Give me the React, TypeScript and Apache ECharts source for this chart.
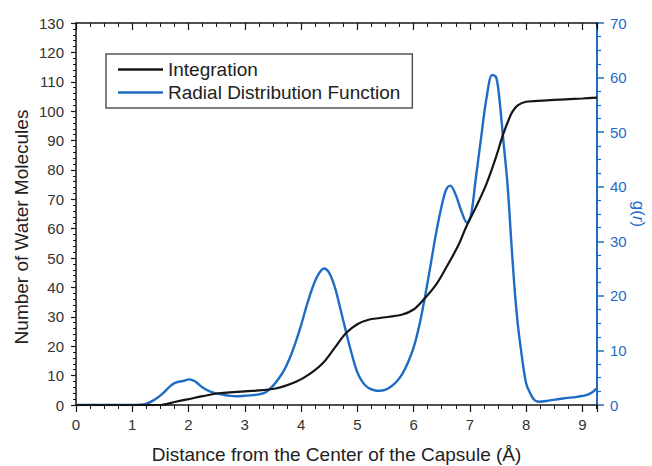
import React, { useEffect, useRef } from "react";
import * as echarts from "echarts";

// Integration (left axis: number of water molecules)
const intX = [0, 1.0, 1.5, 1.77, 2.0, 2.25, 2.54, 2.8, 3.14, 3.55, 3.91, 4.15, 4.38, 4.6, 4.8, 5.0, 5.2, 5.4, 5.8, 6.0, 6.16, 6.4, 6.58, 6.8, 6.93, 7.1, 7.29, 7.45, 7.59, 7.7, 7.76, 7.85, 8.0, 8.3, 8.7, 9.0, 9.26];
const intY = [0, 0, 0, 1.1, 2.0, 3.0, 4.0, 4.4, 4.8, 5.6, 7.9, 10.5, 14.1, 19.5, 24.5, 27.5, 29.0, 29.6, 30.8, 32.5, 35.5, 41.0, 46.8, 54.5, 60.4, 67.0, 75.0, 83.5, 92.0, 97.5, 99.9, 102.0, 103.2, 103.6, 104.0, 104.3, 104.6];

// Radial distribution function g(r) (right axis)
const rdfX = [0, 1.0, 1.24, 1.4, 1.54, 1.68, 1.77, 1.9, 2.01, 2.12, 2.25, 2.4, 2.6, 2.84, 3.0, 3.14, 3.27, 3.38, 3.5, 3.6, 3.7, 3.8, 3.9, 4.0, 4.1, 4.2, 4.3, 4.41, 4.5, 4.6, 4.7, 4.8, 4.9, 5.0, 5.1, 5.2, 5.3, 5.4, 5.5, 5.6, 5.7, 5.8, 5.9, 6.0, 6.1, 6.19, 6.3, 6.4, 6.5, 6.58, 6.65, 6.75, 6.85, 6.95, 7.02, 7.1, 7.2, 7.3, 7.4, 7.47, 7.53, 7.6, 7.67, 7.73, 7.79, 7.85, 7.91, 8.0, 8.08, 8.15, 8.24, 8.4, 8.65, 8.9, 9.07, 9.17, 9.26];
const rdfY = [0, 0, 0.2, 1.0, 2.1, 3.5, 4.1, 4.4, 4.7, 4.3, 3.2, 2.4, 1.9, 1.6, 1.7, 1.8, 2.0, 2.4, 3.5, 4.8, 6.4, 8.6, 11.4, 14.6, 18.2, 21.4, 23.8, 25.0, 24.2, 21.6, 17.6, 13.4, 9.4, 6.0, 4.1, 3.1, 2.7, 2.6, 2.8, 3.4, 4.3, 5.7, 7.8, 10.5, 14.5, 19.1, 25.5, 31.5, 36.5, 39.5, 40.2, 38.5, 35.5, 33.4, 34.8, 41.0, 49.0, 56.5, 60.5, 60.0, 55.6, 48.0, 40.4, 31.0, 22.0, 15.0, 10.0, 4.0, 2.0, 0.9, 0.6, 0.8, 1.2, 1.5, 1.8, 2.3, 3.1];

const xTickLabels = ["0", "1", "2", "3", "4", "5", "6", "7", "8", "9"];

const BLACK = "#151515";
const BLUE = "#1f6cc4";
const FONT = "Liberation Sans, Arial, sans-serif";

export default function App() {
  const ref = useRef<HTMLDivElement>(null);
  useEffect(() => {
    if (!ref.current) return;
    const chart = echarts.init(ref.current, undefined, { renderer: "svg" });
    const intData = intX.map((x, i) => [x, intY[i]]);
    const rdfData = rdfX.map((x, i) => [x, rdfY[i]]);
    chart.setOption({
      animation: false,
      backgroundColor: "#ffffff",
      textStyle: { fontFamily: FONT },
      grid: { left: 76, right: 55, top: 23, bottom: 61, outerBoundsMode: "none", containLabel: false },
      legend: {
        left: 106,
        top: 54,
        orient: "vertical",
        padding: [6, 12, 6, 12],
        itemGap: 4,
        itemWidth: 45,
        itemHeight: 2.5,
        icon: "rect",
        borderColor: "#555",
        borderWidth: 1.5,
        textStyle: { fontSize: 19, color: "#222", fontFamily: FONT, lineHeight: 19 },
        data: ["Integration", "Radial Distribution Function"],
      },
      xAxis: [
        {
          type: "value",
          position: "bottom",
          min: 0,
          max: 9.26,
          interval: 1,
          name: "Distance from the Center of the Capsule (Å)",
          nameLocation: "middle",
          nameGap: 40,
          nameMoveOverlap: false,
          nameTextStyle: { fontSize: 19, color: "#222", fontFamily: FONT },
          axisLine: { show: true, onZero: false, lineStyle: { color: BLACK, width: 1.5 } },
          axisTick: { show: true, length: 7, lineStyle: { color: BLACK, width: 1.2 } },
          minorTick: { show: true, splitNumber: 4, length: 4, lineStyle: { color: BLACK, width: 1 } },
          axisLabel: {
            fontSize: 15,
            color: "#333",
            margin: 12,
            showMaxLabel: false,
            formatter: (v: number) => (Number.isInteger(v) && v >= 0 && v < xTickLabels.length ? xTickLabels[v] : ""),
          },
          splitLine: { show: false },
        },
        {
          type: "value",
          position: "top",
          min: 0,
          max: 9.26,
          interval: 1,
          axisLine: { show: true, onZero: false, lineStyle: { color: BLACK, width: 1.5 } },
          axisTick: { show: true, inside: true, length: 7, lineStyle: { color: BLACK, width: 1.2 } },
          minorTick: { show: true, splitNumber: 4, length: 4, lineStyle: { color: BLACK, width: 1 } },
          axisLabel: { show: false },
          splitLine: { show: false },
        },
      ],
      yAxis: [
        {
          type: "value",
          position: "left",
          min: 0,
          max: 130,
          interval: 10,
          name: "Number of Water Molecules",
          nameLocation: "middle",
          nameGap: 45,
          nameMoveOverlap: false,
          nameTextStyle: { fontSize: 19, color: "#222", fontFamily: FONT, padding: [0, 26, 0, 0] },
          axisLine: { show: true, onZero: false, lineStyle: { color: BLACK, width: 1.5 } },
          axisTick: { show: true, length: 5, lineStyle: { color: BLACK, width: 1.2 } },
          minorTick: { show: true, splitNumber: 5, length: 3, lineStyle: { color: BLACK, width: 1 } },
          axisLabel: { fontSize: 15, color: "#333", margin: 12 },
          splitLine: { show: false },
        },
        {
          type: "value",
          position: "right",
          min: 0,
          max: 70,
          interval: 10,
          name: "g({i|r})",
          nameLocation: "middle",
          nameRotate: -90,
          nameGap: 33,
          nameMoveOverlap: false,
          nameTextStyle: {
            fontSize: 17,
            color: BLUE,
            fontFamily: FONT,
            rich: { i: { fontStyle: "italic", fontSize: 17, color: BLUE, fontFamily: FONT } },
          },
          axisLine: { show: true, onZero: false, lineStyle: { color: BLUE, width: 2 } },
          axisTick: { show: true, length: 7, lineStyle: { color: BLUE, width: 1.5 } },
          minorTick: { show: true, splitNumber: 4, length: 4, lineStyle: { color: BLUE, width: 1.2 } },
          axisLabel: { fontSize: 15, color: BLUE, margin: 13 },
          splitLine: { show: false },
        },
      ],
      series: [
        {
          name: "Integration",
          type: "line",
          xAxisIndex: 0,
          yAxisIndex: 0,
          data: intData,
          symbol: "none",
          smooth: 0.35,
          lineStyle: { color: BLACK, width: 2.2 },
          itemStyle: { color: BLACK },
          z: 3,
        },
        {
          name: "Radial Distribution Function",
          type: "line",
          xAxisIndex: 0,
          yAxisIndex: 1,
          data: rdfData,
          symbol: "none",
          smooth: 0.35,
          lineStyle: { color: BLUE, width: 2.4 },
          itemStyle: { color: BLUE },
          z: 2,
        },
      ],
    });
    return () => chart.dispose();
  }, []);
  return (
    <div
      ref={ref}
      style={{ position: "fixed", left: 0, top: 0, width: 652, height: 466, background: "#fff" }}
    />
  );
}
